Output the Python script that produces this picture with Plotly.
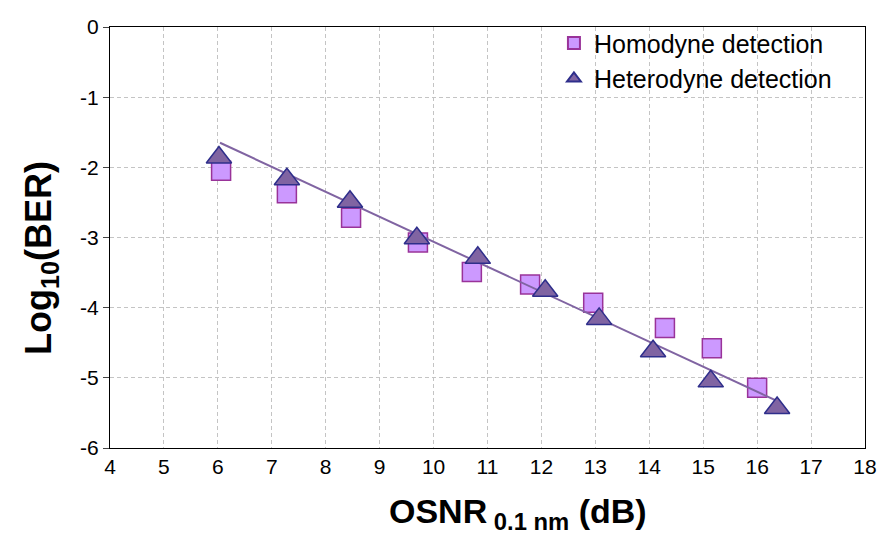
import plotly.graph_objects as go

# OSNR (dB) and log10(BER)
homo_osnr = [6.06, 7.28, 8.47, 9.71, 10.71, 11.79, 12.96, 14.29, 15.16, 16.0]
homo_ber = [-2.05, -2.37, -2.72, -3.07, -3.49, -3.67, -3.93, -4.29, -4.58, -5.14]

hetero_osnr = [6.02, 7.28, 8.45, 9.69, 10.82, 12.07, 13.07, 14.07, 15.14, 16.37]
hetero_ber = [-1.86, -2.17, -2.49, -3.01, -3.29, -3.76, -4.16, -4.62, -5.05, -5.43]

fit_osnr = [6.04, 16.37]
fit_ber = [-1.65, -5.33]

x_ticks = list(range(4, 19))
y_ticks = list(range(-6, 1))
y_labels = [str(v) for v in y_ticks]  # plain hyphen minus like the original

font = "Liberation Sans, Arial, sans-serif"

fig = go.Figure()

fig.add_trace(go.Scatter(
    x=homo_osnr, y=homo_ber,
    mode='markers',
    name='Homodyne detection',
    legendgroup='homo',
    marker=dict(symbol='square', size=19, color='#CC99FF',
                line=dict(color='#993399', width=1.5)),
))

fig.add_trace(go.Scatter(
    x=fit_osnr, y=fit_ber,
    mode='lines',
    showlegend=False,
    line=dict(color='#8064A2', width=2),
))

fig.add_trace(go.Scatter(
    x=hetero_osnr, y=hetero_ber,
    mode='markers',
    name='Heterodyne detection',
    legendgroup='hetero',
    marker=dict(symbol='triangle-up', size=22, color='#8064A2',
                line=dict(color='#2E2E8B', width=1.5)),
))

fig.update_layout(
    width=890, height=535,
    margin=dict(l=102, r=33, t=12, b=95),
    paper_bgcolor='white',
    plot_bgcolor='white',
    font=dict(family=font, size=21, color='black'),
    legend=dict(
        x=0.588, y=1.016, xanchor='left', yanchor='top',
        bgcolor='rgba(0,0,0,0)', borderwidth=0,
        font=dict(size=25),
        itemsizing='constant',
        tracegroupgap=0,
    ),
    shapes=[
        # white patch behind the legend hides the grid there, as in the original
        dict(type='rect', xref='paper', yref='paper', layer='between',
             x0=0.576, x1=0.998, y0=0.83, y1=0.997,
             fillcolor='white', line=dict(width=0)),
    ],
    annotations=[
        dict(text='<b>OSNR<sub> 0.1 nm</sub> (dB)</b>', xref='paper', yref='paper',
             x=0.54, y=-0.155, xanchor='center', yanchor='middle',
             showarrow=False, font=dict(size=34, family=font)),
        dict(text='<b>Log<sub>10</sub>(BER)</b>', xref='paper', yref='paper',
             x=-0.092, y=0.45, xanchor='center', yanchor='middle', textangle=-90,
             showarrow=False, font=dict(size=36, family=font)),
    ],
)

fig.update_xaxes(
    range=[4, 18], tickvals=x_ticks,
    showline=True, linecolor='black', linewidth=1.2, mirror=True,
    showgrid=True, gridcolor='#C4C4C4', griddash='4px,3px', gridwidth=1,
    ticks='', zeroline=False, ticklabeloverflow='allow', automargin=False,
)
fig.update_yaxes(
    range=[-6, 0], tickvals=y_ticks, ticktext=y_labels,
    showline=True, linecolor='black', linewidth=1.2, mirror=True,
    showgrid=True, gridcolor='#C4C4C4', griddash='4px,3px', gridwidth=1,
    ticks='outside', ticklen=6, tickcolor='#444444', zeroline=False,
    ticklabeloverflow='allow', automargin=False,
)

fig.write_html("out.html")
